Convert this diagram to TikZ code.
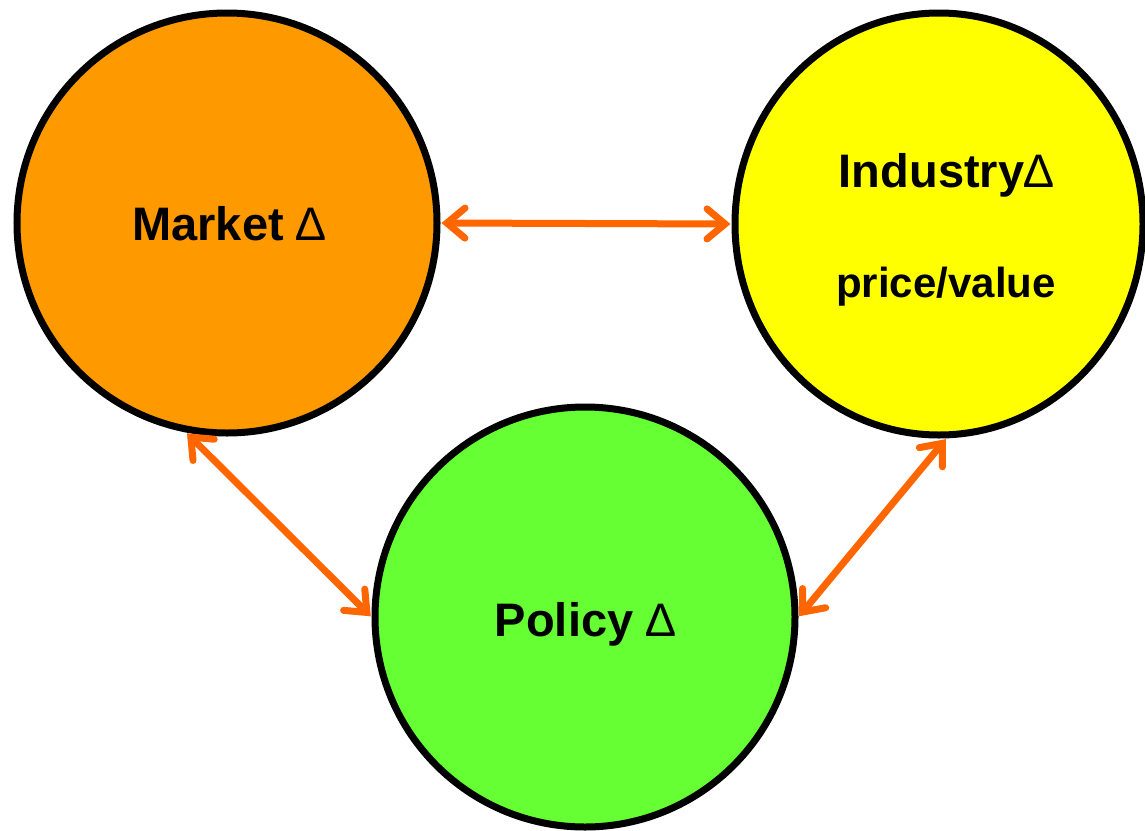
\documentclass[tikz,border=0pt]{standalone}
\usepackage{fontspec}
\setmainfont{Liberation Sans}
\usetikzlibrary{shapes.geometric,arrows.meta}
\definecolor{mkt}{HTML}{FF9900}
\definecolor{ind}{HTML}{FFFF00}
\definecolor{pol}{HTML}{66FF33}
\definecolor{arr}{HTML}{FF6600}
\newcommand{\dlt}{{\mdseries\char"2206}}
\begin{document}
\begin{tikzpicture}[x=1pt,y=-1pt,
  bubble/.style={circle,draw=black,line width=7pt,minimum size=420pt,inner sep=0pt},
  lbl/.style={font=\fontsize{47}{56}\selectfont\bfseries,inner sep=0pt},
  lblsmall/.style={font=\fontsize{42}{50}\selectfont\bfseries,inner sep=0pt},
  link/.style={arr,line width=7pt,{Straight Barb[length=18pt,width=30pt,line cap=round]}-{Straight Barb[length=18pt,width=30pt,line cap=round]},shorten <=1pt,shorten >=1pt}]
\useasboundingbox (0,0) rectangle (1145,830);
\node[bubble,fill=mkt] (m) at (227,223) {};
\node[ellipse,draw=black,line width=7pt,minimum width=408pt,minimum height=422pt,inner sep=0pt,fill=ind] (i) at (939,224) {};
\node[bubble,fill=pol] (p) at (585,617) {};
\node[lbl,anchor=base] (mt) at (229,240) {Market \dlt};
\node[lbl,anchor=base] (it) at (946,187) {Industry\dlt};
\node[lblsmall,anchor=base] (iv) at (946,297) {price/value};
\node[lbl,anchor=base] (pt) at (585,636) {Policy \dlt};
\draw[link] (m.east) -- (i.west);
\draw[link] (m.-101) -- (p.180);
\draw[link] (i.-88) -- (p.0);
\end{tikzpicture}
\end{document}
